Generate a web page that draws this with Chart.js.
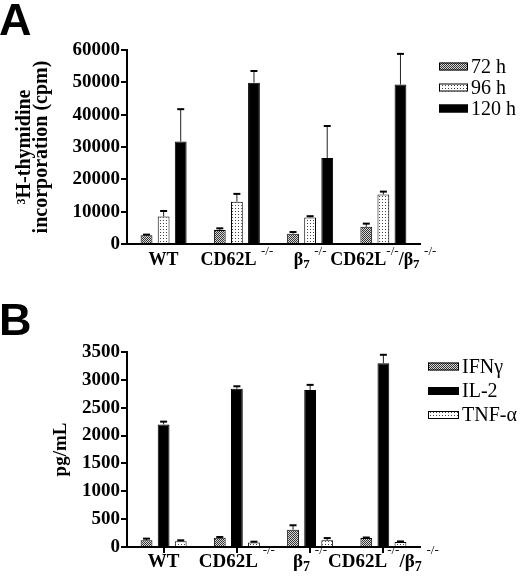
<!DOCTYPE html>
<html><head><meta charset="utf-8">
<script src="https://cdn.jsdelivr.net/npm/chart.js@4.4.1/dist/chart.umd.min.js"></script>
<style>html,body{margin:0;padding:0;background:#fff;width:520px;height:576px;overflow:hidden}canvas{display:block}</style>
</head><body>
<canvas id="a" width="520" height="288"></canvas>
<canvas id="b" width="520" height="288"></canvas>
<script>
// ---- data ----
const categories = ['WT', 'CD62L -/-', 'β7 -/-', 'CD62L-/-/β7 -/-'];
const seriesA = ['72 h', '96 h', '120 h'];
const a72 = [2700, 4300, 3200, 5300];
const a72err = [200, 550, 500, 1000];
const a96 = [8500, 13100, 8200, 15300];
const a96err = [1700, 2400, 400, 900];
const a120 = [31700, 49900, 26600, 49300];
const a120err = [10000, 3600, 9900, 9500];
const yTicksA = [0, 10000, 20000, 30000, 40000, 50000, 60000];
const yTitleA = ['³H-thymidine', 'incorporation (cpm)'];

const seriesB = ['IFNγ', 'IL-2', 'TNF-α'];
const bIFN = [120, 165, 310, 160];
const bIFNerr = [30, 15, 80, 10];
const bIL2 = [2200, 2840, 2820, 3300];
const bIL2err = [50, 45, 90, 150];
const bTNF = [105, 80, 120, 90];
const bTNFerr = [15, 15, 40, 10];
const yTicksB = [0, 500, 1000, 1500, 2000, 2500, 3000, 3500];
const yTitleB = 'pg/mL';

// ---- patterns ----
function checker(ctx) {
  const c = document.createElement('canvas'); c.width = 2; c.height = 2;
  const g = c.getContext('2d');
  g.fillStyle = '#d8d8d8'; g.fillRect(0, 0, 2, 2);
  g.fillStyle = '#333'; g.fillRect(0, 0, 1, 1); g.fillRect(1, 1, 1, 1);
  return ctx.createPattern(c, 'repeat');
}
function dots(ctx) {
  const c = document.createElement('canvas'); c.width = 3; c.height = 3;
  const g = c.getContext('2d');
  g.fillStyle = '#fff'; g.fillRect(0, 0, 3, 3);
  g.fillStyle = '#444'; g.fillRect(1, 1, 1, 1);
  return ctx.createPattern(c, 'repeat');
}

const SERIF = '"Liberation Serif", "Times New Roman", serif';
Chart.defaults.font.family = SERIF;
Chart.defaults.color = '#000';

function parts(label) {
  const out = []; const re = /(-\/-)|(β)(7)/g; let last = 0, m;
  while ((m = re.exec(label))) {
    if (m.index > last) out.push({t: label.slice(last, m.index), k: 'n'});
    if (m[1]) out.push({t: m[1], k: 'sup'});
    else { out.push({t: 'β', k: 'n'}); out.push({t: '7', k: 'sub'}); }
    last = re.lastIndex;
  }
  if (last < label.length) out.push({t: label.slice(last), k: 'n'});
  return out;
}

const deco = {
  id: 'deco',
  afterDatasetsDraw(chart, args, o) {
    const ctx = chart.ctx, y = chart.scales.y;
    chart.data.datasets.forEach((ds, d) => {
      const meta = chart.getDatasetMeta(d);
      meta.data.forEach((el, i) => {
        const e = ds.errors[i]; if (!e) return;
        const top = y.getPixelForValue(ds.data[i] + e);
        ctx.save(); ctx.strokeStyle = '#222';
        ctx.lineWidth = 1; ctx.beginPath(); ctx.moveTo(el.x, el.y); ctx.lineTo(el.x, top); ctx.stroke();
        ctx.strokeStyle = '#000'; ctx.lineWidth = 2;
        ctx.beginPath(); ctx.moveTo(el.x - o.cap, top); ctx.lineTo(el.x + o.cap, top); ctx.stroke();
        ctx.restore();
      });
    });
  },
  afterDraw(chart, args, o) {
    const ctx = chart.ctx, x = chart.scales.x;
    ctx.save();
    ctx.fillStyle = '#000';
    ctx.font = 'bold 45px "Liberation Sans", Arial, sans-serif';
    ctx.textBaseline = 'alphabetic'; ctx.textAlign = 'left';
    ctx.fillText(o.letter, -1, o.letterY);
    chart.data.labels.forEach((lab, i) => {
      const ps = parts(lab);
      const fs = o.fs;
      const fonts = {n: `bold ${fs}px ${SERIF}`, sup: `${Math.round(fs * 0.7)}px ${SERIF}`, sub: `bold ${Math.round(fs * 0.72)}px ${SERIF}`};
      const dys = {n: 0, sup: o.supDy, sub: fs * 0.28};
      let w = 0;
      ps.forEach(p => { ctx.font = fonts[p.k]; p.w = ctx.measureText(p.t).width; w += p.w; });
      let cx = x.getPixelForValue(i) - w / 2;
      ctx.textBaseline = 'middle'; ctx.textAlign = 'left';
      ps.forEach(p => { ctx.font = fonts[p.k]; ctx.fillText(p.t, cx, o.labelY + dys[p.k]); cx += p.w; });
    });
    chart.data.datasets.forEach((ds, d) => {
      const cy = o.legY[d];
      ctx.fillStyle = ds.backgroundColor;
      ctx.fillRect(o.legX, cy - o.legH / 2, o.legW, o.legH);
      ctx.strokeStyle = '#000'; ctx.lineWidth = 1;
      ctx.strokeRect(o.legX + 0.5, cy - o.legH / 2 + 0.5, o.legW - 1, o.legH - 1);
      ctx.fillStyle = '#000'; ctx.font = `${o.legFs}px ${SERIF}`;
      ctx.textBaseline = 'middle';
      ctx.fillText(ds.label, o.legX + o.legW + 3, cy + 1);
    });
    ctx.restore();
  }
};

function makeChart(id, cfg) {
  const canvas = document.getElementById(id);
  const ctx = canvas.getContext('2d');
  const fills = [checker(ctx), dots(ctx), '#000'];
  const datasets = cfg.series.map((s, k) => ({
    label: s, data: cfg.values[k], errors: cfg.errs[k],
    backgroundColor: fills[cfg.fillIdx[k]], borderColor: '#000', borderWidth: 1,
    categoryPercentage: 0.7, barPercentage: 0.69
  }));
  return new Chart(ctx, {
    type: 'bar',
    data: {labels: categories, datasets},
    plugins: [deco],
    options: {
      responsive: false, animation: false, devicePixelRatio: 1,
      layout: {padding: {left: 0, top: cfg.padTop, right: 100, bottom: 0}},
      plugins: {legend: {display: false}, tooltip: {enabled: false}, deco: cfg.deco},
      scales: {
        x: {
          ticks: {display: false},
          grid: {display: cfg.xTicks, drawOnChartArea: false, drawTicks: cfg.xTicks, tickLength: 6, offset: false, color: '#000', lineWidth: 2},
          border: {display: true, color: '#000', width: 2},
          afterFit: s => { s.height = cfg.xH; }
        },
        y: {
          min: cfg.ticks[0], max: cfg.ticks[cfg.ticks.length - 1],
          ticks: {stepSize: cfg.ticks[1] - cfg.ticks[0], font: {size: 19, weight: 'bold'}, color: '#000', padding: 1,
                  callback: v => String(v)},
          grid: {display: true, drawOnChartArea: false, drawTicks: true, tickLength: 6, color: '#000', lineWidth: 2},
          border: {display: true, color: '#000', width: 2},
          title: {display: true, text: cfg.title, font: cfg.titleFont, color: '#000', padding: {top: cfg.titlePad, bottom: 0}},
          afterFit: s => { s.width = 127; }
        }
      }
    }
  });
}

makeChart('a', {
  series: seriesA, values: [a72, a96, a120], errs: [a72err, a96err, a120err], fillIdx: [0, 1, 2],
  ticks: yTicksA, title: yTitleA, titleFont: {size: 20, weight: 'bold', lineHeight: '17px'}, titlePad: 16,
  padTop: 50, xH: 44, xTicks: false,
  deco: {cap: 3.5, letter: 'A', letterY: 35, fs: 18, labelY: 260, supDy: -8,
         legX: 439, legW: 29, legH: 8, legY: [66.5, 87.5, 108.5], legFs: 20}
});
makeChart('b', {
  series: seriesB, values: [bIFN, bIL2, bTNF], errs: [bIFNerr, bIL2err, bTNFerr], fillIdx: [0, 2, 1],
  ticks: yTicksB, title: yTitleB, titleFont: {size: 19, weight: 'bold'}, titlePad: 50,
  padTop: 64, xH: 29, xTicks: true,
  deco: {cap: 3.5, letter: 'B', letterY: 47, fs: 19, labelY: 274, supDy: -11,
         legX: 428, legW: 31, legH: 8, legY: [78.5, 103, 127], legFs: 20}
});
</script>
</body></html>
